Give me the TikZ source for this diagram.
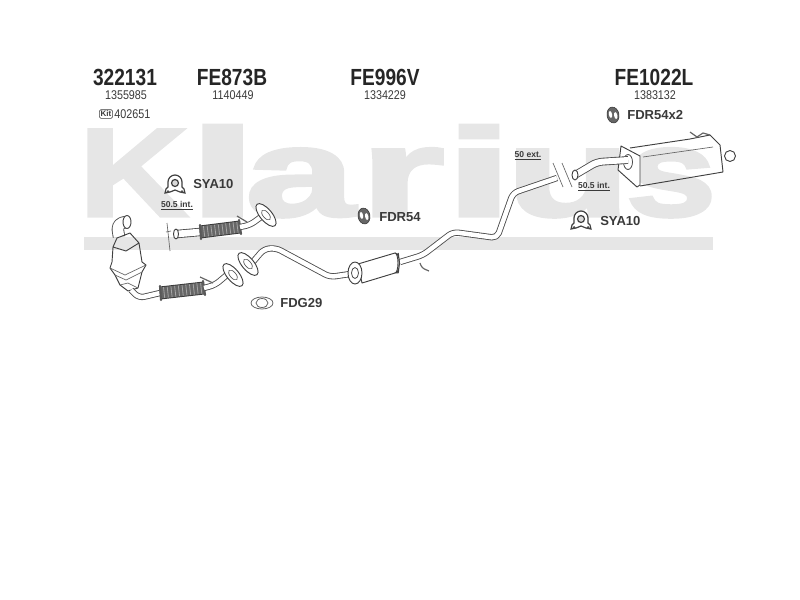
\documentclass[tikz,border=0pt]{standalone}
\usepackage{fontspec}
\usetikzlibrary{positioning}
\setmainfont{Liberation Sans}
\newfontfamily\brandfont[BoldFeatures={FakeBold=2.5}]{Liberation Sans}
\definecolor{wmgray}{HTML}{E6E6E6}
\definecolor{inkgray}{HTML}{3A3A3A}
\newcommand{\brandletter}[2]{\scalebox{#1}[1]{#2}}
\tikzset{
    partno/.style={font=\fontsize{17.5}{18}\selectfont\bfseries, text=black!85, xscale=.82, transform shape, inner sep=0pt},
    refno/.style={font=\fontsize{9.5}{10}\selectfont, text=inkgray, xscale=.85, transform shape, inner sep=0pt},
    fitting/.style={font=\fontsize{9.8}{10}\selectfont\bfseries, text=inkgray, inner sep=0pt},
    fitnote/.style={font=\fontsize{6.4}{7}\selectfont\bfseries, text=inkgray, inner sep=0pt},
    pipe/.style={draw=black!70, line width=.65pt, double=white, double distance=3.4pt, line join=round, rounded corners=4pt},
    flex/.style={draw=black!80, line width=.6pt, double=black!60, double distance=8.5pt},
    weave/.style={draw=black!35, line width=8pt, dash pattern=on .6pt off 2.2pt},
    collar/.style={draw=black!65, line width=1.6pt, line cap=round},
    shell/.style={draw=black!75, fill=white, line width=.7pt, line join=round},
    seam/.style={draw=black!60, line width=.5pt},
    hook/.style={draw=black!60, line width=.9pt},
    pics/clamp/.style={code={
        \draw[black!75, line width=.9pt, fill=white] (-10,9) -- (-9,5) -- (-7,3) -- (-7,-2) arc[start angle=180, end angle=360, radius=7] -- (7,3) -- (9,5) -- (10,9) -- (5,8) -- (0,6) -- (-5,8) -- cycle;
        \draw[black!75, line width=.9pt, fill=black!15] (0,-1) circle (3.5);
        \fill[black!70] (-7,7.5) circle (1.5) (7,7.5) circle (1.5);
    }},
    pics/rubber/.style={code={
        \draw[black!80, fill=black!60, rotate=10] (0,0) ellipse (6 and 8);
        \fill[white, rotate=10] (-2.4,-1) ellipse (1.6 and 3.5) (2.6,1) ellipse (1.6 and 3.5);
    }},
    pics/flange/.style={code={
        \draw[shell] (0,0) ellipse (6 and 14);
        \draw[black!65, line width=.5pt, fill=white] (0,0) ellipse (3 and 6);
    }},
}
\begin{document}
\begin{tikzpicture}[x=.75pt, y=-.75pt]
    \useasboundingbox (0,0) rectangle (800,600);

    % watermark
    \node[anchor=base west, inner sep=0pt, font=\fontsize{94}{94}\brandfont\bfseries, text=wmgray] (brand) at (79,216)
        {\brandletter{1.2}{K}\brandletter{2}{l}\kern-9pt\brandletter{1.57}{a}\kern3.75pt\brandletter{1.73}{r}\brandletter{2}{i}\kern-6pt\brandletter{1.63}{u}\kern-3.75pt\brandletter{1.3}{s}};
    \fill[wmgray] (84,237) rectangle (713,250);

    % part numbers
    \node[partno] (cat) at (125,77) {322131};
    \node[refno] (catref) at (126,95) {1355985};
    \node[draw=inkgray, rounded corners=1pt, inner sep=1pt, font=\fontsize{6}{7}\selectfont\bfseries, text=inkgray] (kit) at (106,114) {Kit};
    \node[refno, right=1pt of kit] (kitref) {402651};
    \node[partno] (front) at (232,77) {FE873B};
    \node[refno] (frontref) at (233,95) {1140449};
    \node[partno] (centre) at (385,77) {FE996V};
    \node[refno] (centreref) at (385,95) {1334229};
    \node[partno] (rear) at (654,77) {FE1022L};
    \node[refno] (rearref) at (655,95) {1383132};

    % fittings
    \pic at (175,184) {clamp};
    \node[fitting, anchor=west] (clampa) at (193,184) {SYA10};
    \node[fitnote] (notea) at (177,206) {\underline{50.5 int.}};
    \pic at (364,216) {rubber};
    \node[fitting, anchor=west] (rubbera) at (379,217) {FDR54};
    \pic at (613,115) {rubber};
    \node[fitting, anchor=west] (rubberb) at (627,115) {FDR54x2};
    \pic at (581,220) {clamp};
    \node[fitting, anchor=west] (clampb) at (600,221) {SYA10};
    \draw[black!60, line width=.6pt] (262,303) ellipse (11 and 6);
    \draw[black!60, line width=.6pt] (262,303) ellipse (6 and 4.5);
    \node[fitting, anchor=west] (gasket) at (280,303) {FDG29};
    \node[fitnote] (noteb) at (528,156) {\underline{50 ext.}};
    \node[fitnote] (notec) at (594,187) {\underline{50.5 int.}};

    % catalyst
    \draw[pipe, double distance=8pt] (119,237) -- (117,224) -- (126,222);
    \draw[shell] (127,222) ellipse (4 and 6.5);
    \fill[white] (112,250) -- (140,250) -- (142,262) -- (146,265) -- (142,272) -- (138,288) -- (128,291) -- (120,285) -- (115,275) -- (110,268) -- (112,262) -- cycle;
    \draw[black!75, line width=.7pt, line join=round] (113,247) -- (117,238) -- (130,233) -- (139,243) (113,247) -- (126,251) -- (139,243) -- (142,262) -- (146,265) -- (142,272) -- (138,288) -- (128,291) -- (120,285) -- (115,275) -- (110,268) -- (112,262) -- cycle;
    \draw[seam] (110,268) -- (125,275) -- (146,265) (115,275) -- (126,280) -- (142,272) (120,285) -- (128,283) -- (138,288);

    % front pipes
    \draw[pipe] (131,290) -- (139,298) -- (160,293);
    \draw[flex] (160,293) -- (204,288);
    \draw[weave] (160,293) -- (204,288);
    \draw[collar] (160,286) -- (161,300);
    \draw[collar] (203,281) -- (205,295);
    \draw[pipe] (204,288) -- (215,285) -- (228,274);
    \draw[hook] (200,277) -- (213,283);
    \pic[rotate=40] at (233,275) {flange};
    \draw[pipe, double distance=5pt] (177,234) -- (200,232);
    \draw[shell] (176,234) ellipse (2.5 and 5);
    \draw[flex] (200,232) -- (240,227);
    \draw[weave] (200,232) -- (240,227);
    \draw[collar] (200,225) -- (201,239);
    \draw[collar] (239,220) -- (241,234);
    \draw[pipe] (240,227) -- (250,225) -- (261,217);
    \draw[hook] (237,216) -- (247,222);
    \pic[rotate=40] at (266,215) {flange};
    \draw[seam] (167,223) -- (170,251);
    \draw[seam] (166,232) -- (171,231);

    % centre pipe and silencer
    \draw[pipe] (252,263) -- (264,249) -- (276,248) -- (330,277) -- (350,274);
    \pic[rotate=40] at (248,264) {flange};
    \draw[pipe] (400,262) -- (423,255) -- (453,232) -- (497,238) -- (513,193) -- (557,178);
    \draw[shell] (358,264) -- (395,253) arc[start angle=-90, end angle=90, x radius=3, y radius=10] -- (362,283) -- cycle;
    \draw[shell] (395,253) arc[start angle=-90, end angle=90, x radius=4.5, y radius=10] -- (398,273) arc[start angle=90, end angle=-90, x radius=1, y radius=10];
    \draw[shell] (355,273) ellipse (7 and 11);
    \draw[black!70, fill=white, line width=.6pt] (355,273) ellipse (3.5 and 5.5);
    \draw[hook, rounded corners=2pt] (420,263) -- (422,268) -- (429,271);
    \draw[seam] (553,163) -- (563,187);

    % rear pipe and silencer
    \draw[seam] (562,163) -- (572,187);
    \draw[shell] (730,156) circle (5.5);
    \draw[black!75, line width=.7pt, line join=round] (630,148) -- (690,139) -- (710,135) -- (720,145) -- (723,172) -- (640,186);
    \draw[seam] (643,157) -- (713,147);
    \draw[shell] (621,146) -- (640,156) -- (640,185) -- (637,187) -- (618,170) -- cycle;
    \draw[black!70, fill=white, line width=.6pt] (628,162) ellipse (4.5 and 7.5);
    \draw[pipe, double distance=4.5pt] (575,175) -- (597,162) -- (628,160);
    \draw[shell] (575,175) ellipse (3 and 5);
    \draw[hook] (690,132) -- (697,137) -- (703,133) -- (710,135);
\end{tikzpicture}
\end{document}
